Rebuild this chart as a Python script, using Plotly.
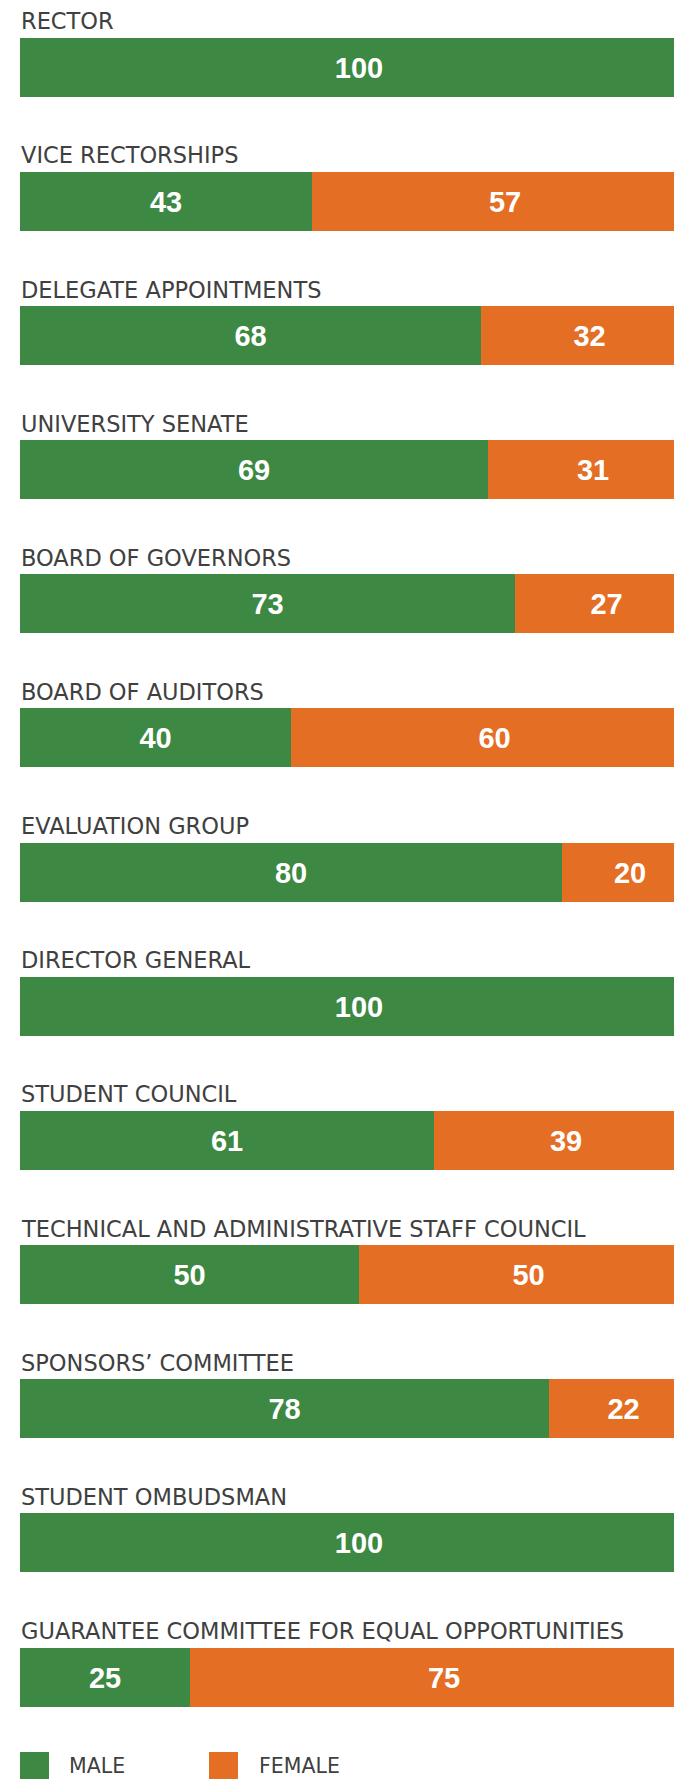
import plotly.graph_objects as go

# ── Data ─────────────────────────────────────────────────────────────
bodies = [
    'RECTOR',
    'VICE RECTORSHIPS',
    'DELEGATE APPOINTMENTS',
    'UNIVERSITY SENATE',
    'BOARD OF GOVERNORS',
    'BOARD OF AUDITORS',
    'EVALUATION GROUP',
    'DIRECTOR GENERAL',
    'STUDENT COUNCIL',
    'TECHNICAL AND ADMINISTRATIVE STAFF COUNCIL',
    'SPONSORS\u2019 COMMITTEE',
    'STUDENT OMBUDSMAN',
    'GUARANTEE COMMITTEE FOR EQUAL OPPORTUNITIES',
]
male = [100, 43, 68, 69, 73, 40, 80, 100, 61, 50, 78, 100, 25]
female = [0, 57, 32, 31, 27, 60, 20, 0, 39, 50, 22, 0, 75]
series_names = ['MALE', 'FEMALE']

GREEN = '#3D8842'
ORANGE = '#E56E25'
LABEL_FONT = 'DejaVu Sans'
NUM_FONT = 'Liberation Sans, Arial, Roboto'


def labels(values):
    return [str(v) if v else '' for v in values]


fig = go.Figure()
for name, vals, col in [(series_names[0], male, GREEN), (series_names[1], female, ORANGE)]:
    fig.add_trace(go.Bar(
        y=bodies, x=vals, orientation='h', name=name,
        marker=dict(color=col, line=dict(width=0)),
        width=0.44,
        text=labels(vals), textposition='inside', insidetextanchor='middle',
        textangle=0,
        textfont=dict(family=NUM_FONT, size=29, color='white', weight='bold'),
        hoverinfo='skip',
    ))

# category titles above each bar
for b in bodies:
    fig.add_annotation(
        x=0, y=b, xref='x', yref='y', text=b, showarrow=False,
        xanchor='left', yanchor='middle', yshift=46, xshift=-1,
        font=dict(family=LABEL_FONT, size=22.5, color='#404040'),
    )

# legend, drawn as squares + text at the bottom
legend_items = [(series_names[0], GREEN, 0.0, 0.0714), (series_names[1], ORANGE, 0.289, 0.362)]
for name, col, sx, tx in legend_items:
    fig.add_shape(
        type='rect', xref='paper', yref='paper',
        xsizemode='pixel', ysizemode='pixel', xanchor=sx, yanchor=0,
        x0=0, x1=29, y0=-2, y1=27, fillcolor=col, line=dict(width=0),
    )
    fig.add_annotation(
        x=tx, y=0, xref='paper', yref='paper', text=name, showarrow=False,
        xanchor='left', yanchor='bottom', yshift=-1,
        font=dict(family=LABEL_FONT, size=20.5, color='#404040'),
    )

fig.update_layout(
    barmode='stack',
    width=674, height=1779,
    margin=dict(l=20, r=0, t=0, b=0),
    plot_bgcolor='white', paper_bgcolor='white',
    showlegend=False,
    bargap=0,
    xaxis=dict(range=[0, 96.46], visible=False, fixedrange=True),
    yaxis=dict(range=[12.76, -0.501], visible=False, fixedrange=True),
    uniformtext=dict(minsize=29, mode='show'),
)

# page body margin would otherwise offset the chart by 8px
fig.write_html(
    'out.html',
    config={'displayModeBar': False},
    post_script="document.body.style.margin='0';document.body.style.overflow='hidden';",
)
